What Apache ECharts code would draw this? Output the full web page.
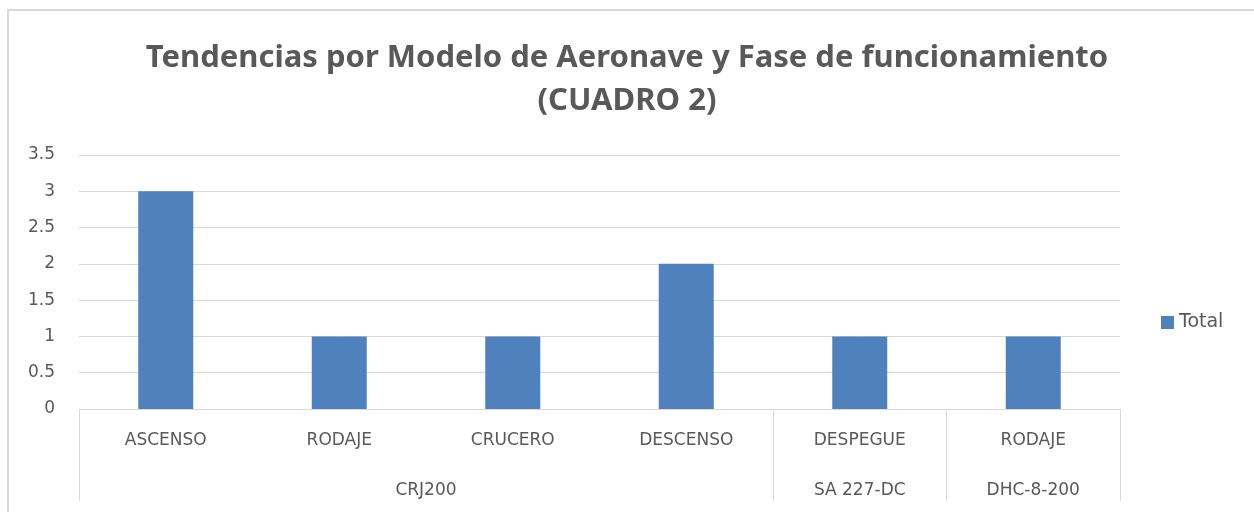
<!DOCTYPE html>
<html>
<head>
<meta charset="utf-8">
<script src="https://cdn.jsdelivr.net/npm/echarts@6/dist/echarts.min.js"></script>
<style>
  html, body { margin: 0; padding: 0; background: #fff; }
  #chart { width: 1254px; height: 512px; }
</style>
</head>
<body>
<div id="chart"></div>
<script>
// fase de funcionamiento (nivel 1) y modelo de aeronave (nivel 2)
var fases = ['ASCENSO', 'RODAJE', 'CRUCERO', 'DESCENSO', 'DESPEGUE', 'RODAJE'];
var totales = [3, 1, 1, 2, 1, 1];
var modelos = ['CRJ200', 'SA 227-DC', 'DHC-8-200'];
var modeloSpan = [4, 1, 1];   // cuantas fases cubre cada modelo
var yTicks = [0, 0.5, 1, 1.5, 2, 2.5, 3, 3.5];

// limites y centros de cada grupo en unidades de categoria
var limites = [0];
var centros = [];
modeloSpan.forEach(function (n) {
    var ini = limites[limites.length - 1];
    centros.push(ini + n / 2);
    limites.push(ini + n);
});

var textColor = '#595959';
var lineColor = '#d9d9d9';
var font = 'DejaVu Sans';

var chart = echarts.init(document.getElementById('chart'));
chart.setOption({
    animation: false,
    backgroundColor: '#fff',
    title: {
        text: 'Tendencias por Modelo de Aeronave y Fase de funcionamiento\n(CUADRO 2)',
        left: 'center',
        top: 32,
        textStyle: {
            fontFamily: 'Noto Sans',
            fontSize: 31,
            fontWeight: 'bold',
            color: textColor,
            lineHeight: 43
        }
    },
    legend: {
        orient: 'vertical',
        left: 1161,
        top: 313,
        padding: 0,
        itemWidth: 13,
        itemHeight: 13,
        itemGap: 6,
        icon: 'rect',
        textStyle: { fontFamily: font, fontSize: 19, color: textColor, padding: [0, 0, 0, 0] },
        data: ['Total']
    },
    grid: {
        left: 79,
        right: 134,
        top: 155,
        bottom: 103
    },
    xAxis: [
        {
            type: 'category',
            data: fases,
            position: 'bottom',
            axisLine: { show: false },
            axisTick: { show: false },
            axisLabel: { fontFamily: font, fontSize: 17, color: textColor, margin: 23, interval: 0 }
        },
        {
            type: 'value',
            min: 0,
            max: fases.length,
            position: 'bottom',
            splitLine: { show: false },
            axisLine: { show: false },
            axisTick: {
                show: true,
                customValues: limites,
                length: 92,
                lineStyle: { color: lineColor, width: 1 }
            },
            axisLabel: {
                customValues: centros,
                fontFamily: font,
                fontSize: 17,
                color: textColor,
                margin: 73,
                formatter: function (v) {
                    var i = centros.indexOf(v);
                    return i >= 0 ? modelos[i] : '';
                }
            }
        }
    ],
    yAxis: {
        type: 'value',
        min: yTicks[0],
        max: yTicks[yTicks.length - 1],
        interval: 0.5,
        axisLine: { show: false },
        axisTick: { show: false },
        axisLabel: { fontFamily: font, fontSize: 17, color: textColor, margin: 24 },
        splitLine: { lineStyle: { color: lineColor, width: 1 } }
    },
    series: [{
        name: 'Total',
        type: 'bar',
        xAxisIndex: 0,
        barWidth: 55,
        itemStyle: { color: '#4f81bd' },
        data: totales
    }],
    graphic: [
        { type: 'line', shape: { x1: 8, y1: 10, x2: 1254, y2: 10 }, style: { stroke: lineColor, lineWidth: 2 } },
        { type: 'line', shape: { x1: 8, y1: 9, x2: 8, y2: 512 }, style: { stroke: lineColor, lineWidth: 2 } }
    ]
});
</script>
</body>
</html>
